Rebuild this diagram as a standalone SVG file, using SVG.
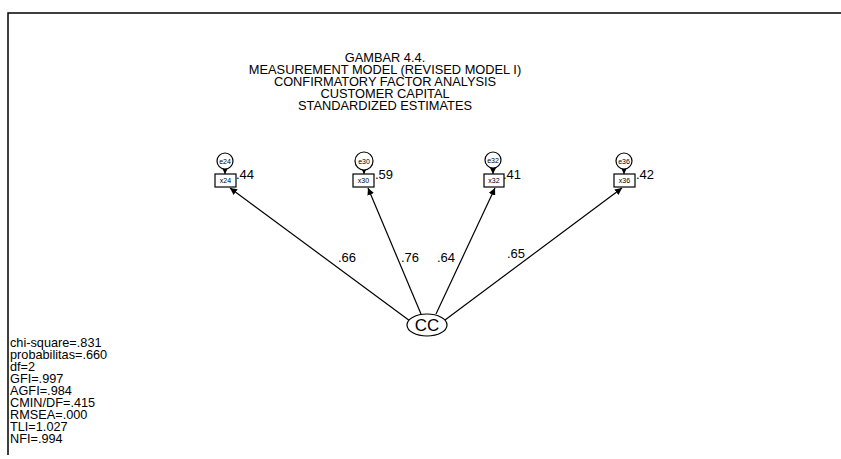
<svg xmlns="http://www.w3.org/2000/svg" width="841" height="459" viewBox="0 0 841 459">
<defs>
<marker id="ah" viewBox="0 0 10 10" refX="10" refY="5" markerWidth="7" markerHeight="7" markerUnits="userSpaceOnUse" orient="auto"><path d="M0,0 L10,5 L0,10 z" fill="#000"/></marker>
</defs>
<style>
text{font-family:"Liberation Sans",Arial,sans-serif;fill:#000}
.t{font-size:12px;text-anchor:middle}
.s{font-size:12px}
.l{font-size:13px}
.e{font-size:7px;text-anchor:middle}
.c{fill:#fff;stroke:#000;stroke-width:1.2}
.ln{stroke:#000;stroke-width:1.2;fill:none;marker-end:url(#ah)}
</style>
<rect width="841" height="459" fill="#fff"/>
<path d="M8,455 V13 H841" stroke="#000" stroke-width="1.5" fill="none"/>
<g id="title" transform="translate(385,0) scale(1.07,1)">
<text class="t" x="0" y="62">GAMBAR 4.4.</text>
<text class="t" x="0" y="74">MEASUREMENT MODEL (REVISED MODEL I)</text>
<text class="t" x="0" y="86">CONFIRMATORY FACTOR ANALYSIS</text>
<text class="t" x="0" y="98">CUSTOMER CAPITAL</text>
<text class="t" x="0" y="110">STANDARDIZED ESTIMATES</text>
</g>
<g id="connectors">
<line class="ln" x1="225" y1="169" x2="225" y2="174"/>
<line class="ln" x1="364" y1="170" x2="364" y2="174"/>
<line class="ln" x1="493" y1="168" x2="493" y2="174"/>
<line class="ln" x1="624" y1="169" x2="624" y2="174"/>
<line class="ln" x1="410" y1="321" x2="230" y2="188"/>
<line class="ln" x1="421" y1="314" x2="368" y2="188"/>
<line class="ln" x1="436" y1="314" x2="495" y2="188"/>
<line class="ln" x1="445" y1="320" x2="622" y2="188"/>
<text class="l" x="338" y="262">.66</text>
<text class="l" x="401" y="262">.76</text>
<text class="l" x="437" y="262">.64</text>
<text class="l" x="507" y="258">.65</text>
</g>
<g id="e24"><circle class="c" cx="225" cy="161" r="8"/><text class="e" x="225" y="163.5">e24</text></g>
<g id="e30"><circle class="c" cx="364" cy="161" r="9"/><text class="e" x="364" y="163.5">e30</text></g>
<g id="e32"><circle class="c" cx="493" cy="160" r="8"/><text class="e" x="493" y="162.5">e32</text></g>
<g id="e36"><circle class="c" cx="624" cy="161" r="8"/><text class="e" x="624" y="163.5">e36</text></g>
<g id="x24"><rect class="c" x="215" y="174" width="21" height="13"/><text class="e" x="225.5" y="183">x24</text><text class="l" x="236" y="179">.44</text></g>
<g id="x30"><rect class="c" x="353" y="174" width="21" height="13"/><text class="e" x="363.5" y="183">x30</text><text class="l" x="375" y="179">.59</text></g>
<g id="x32"><rect class="c" x="484" y="174" width="20" height="13"/><text class="e" x="494" y="183">x32</text><text class="l" x="503" y="179">.41</text></g>
<g id="x36"><rect class="c" x="614" y="174" width="21" height="13"/><text class="e" x="624.5" y="183">x36</text><text class="l" x="636" y="179">.42</text></g>
<g id="CC"><ellipse class="c" cx="427" cy="325" rx="20" ry="11"/><text x="427" y="331" style="font-size:17px;text-anchor:middle">CC</text></g>
<g id="fit" transform="translate(10,0) scale(1.06,1)">
<text class="s" x="0" y="347">chi-square=.831</text>
<text class="s" x="0" y="359">probabilitas=.660</text>
<text class="s" x="0" y="371">df=2</text>
<text class="s" x="0" y="383">GFI=.997</text>
<text class="s" x="0" y="395">AGFI=.984</text>
<text class="s" x="0" y="407">CMIN/DF=.415</text>
<text class="s" x="0" y="419">RMSEA=.000</text>
<text class="s" x="0" y="431">TLI=1.027</text>
<text class="s" x="0" y="443">NFI=.994</text>
</g>
</svg>
